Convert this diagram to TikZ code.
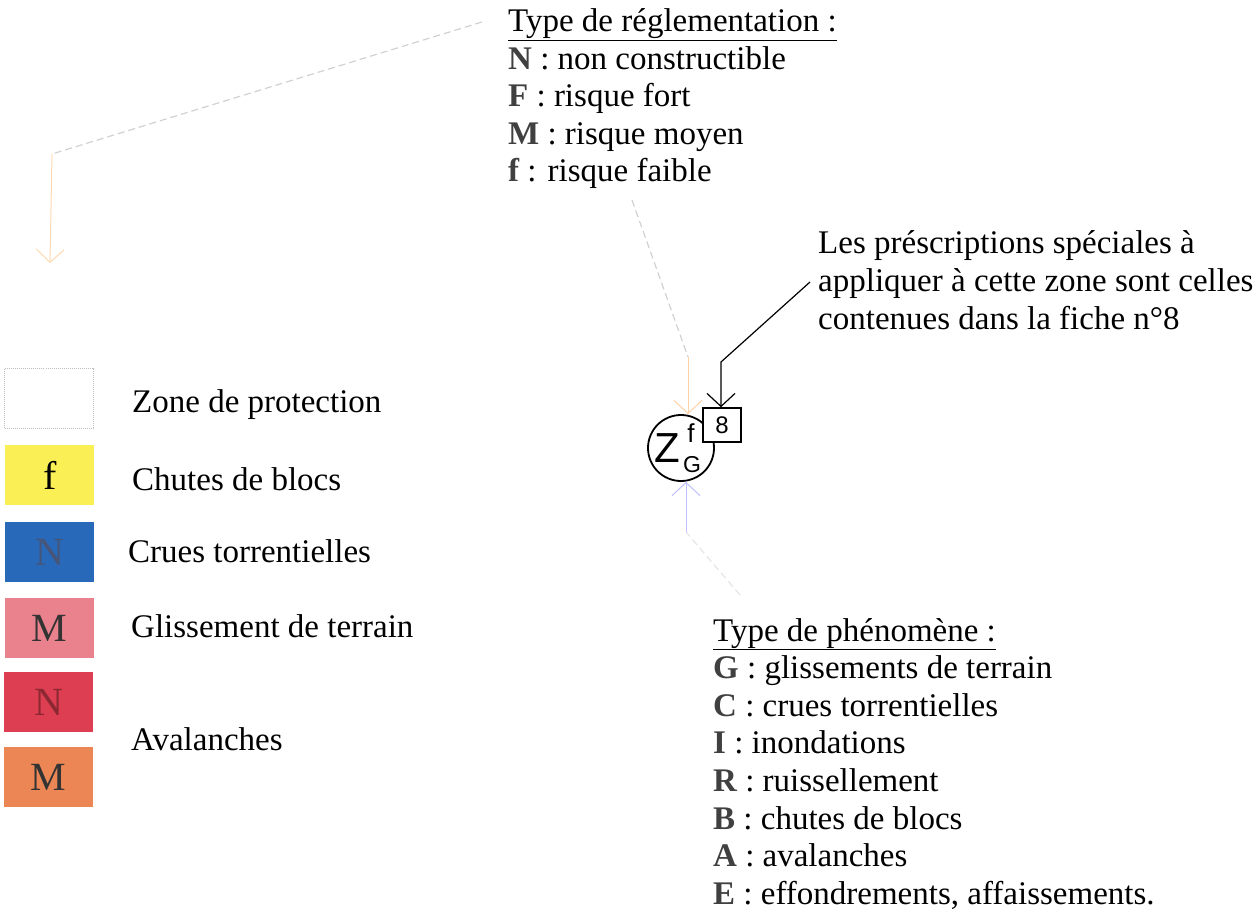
\documentclass[tikz,border=0pt]{standalone}
\usepackage{fontspec}
\setmainfont{Liberation Serif}
\setsansfont{Liberation Sans}
\usetikzlibrary{arrows.meta,positioning}

\definecolor{jaune}{RGB}{250,240,85}
\definecolor{bleu}{RGB}{40,105,185}
\definecolor{bleutxt}{RGB}{70,85,120}
\definecolor{rose}{RGB}{234,130,142}
\definecolor{rouge}{RGB}{222,62,82}
\definecolor{rougetxt}{RGB}{140,40,50}
\definecolor{orangeav}{RGB}{236,135,85}

\newcommand{\cle}[1]{\textbf{\color{black!75}#1}}

\begin{document}
\begin{tikzpicture}[x=1pt,y=-1pt,
	txt/.style={anchor=base west,inner sep=0pt,font=\fontsize{33}{38}\selectfont},
	legbox/.style={anchor=north west,minimum width=89pt,minimum height=60pt,inner sep=0pt,font=\fontsize{40}{40}\selectfont},
	pointer/.style={-{Straight Barb[length=13pt,width=28pt]},line width=1.2pt},
	faint/.style={line width=1.2pt,dash pattern=on 7pt off 4pt,black!18},
	symb/.style={inner sep=0pt},
]
	\useasboundingbox (0,0) rectangle (1255,920);

	% Legend (left)
	\node[legbox,draw=black!25,densely dotted,line width=1pt] (zone) at (4,368) {};
	\node[legbox,fill=jaune] (chutes) at (5,445) {f};
	\node[legbox,fill=bleu,text=bleutxt] (crues) at (5,522) {N};
	\node[legbox,fill=rose,text=black!80] (gliss) at (5,598) {M};
	\node[legbox,fill=rouge,text=rougetxt] (avalN) at (4,672) {N};
	\node[legbox,fill=orangeav,text=black!80] (avalM) at (4,747) {M};
	\node[txt] (lzone) at (132,412) {Zone de protection};
	\node[txt] (lchutes) at (132,490) {Chutes de blocs};
	\node[txt] (lcrues) at (128,562) {Crues torrentielles};
	\node[txt] (lgliss) at (131,637) {Glissement de terrain};
	\node[txt] (laval) at (131,750) {Avalanches};

	% Type de reglementation
	\node[txt] (reg0) at (508,32) {\underline{Type de réglementation :}};
	\foreach \k/\t [count=\i] in {N/non constructible,F/risque fort,M/risque moyen,f/risque faible}
		\node[txt] (reg\i) at (508,{32+37.5*\i}) {\cle{\k} : \t};

	% Prescriptions
	\node[txt] (presc1) at (818,253) {Les préscriptions spéciales à};
	\node[txt] (presc2) at (818,291) {appliquer à cette zone sont celles};
	\node[txt] (presc3) at (818,329) {contenues dans la fiche n°8};

	% Type de phenomene
	\node[txt] (phen0) at (713,641) {\underline{Type de phénomène :}};
	\foreach \k/\t [count=\i] in {G/glissements de terrain,C/crues torrentielles,I/inondations,R/ruissellement,B/chutes de blocs,A/avalanches,E/{effondrements, affaissements.}}
		\node[txt] (phen\i) at (713,{641+37.6*\i}) {\cle{\k} : \t};

	% Zone symbol
	\node[circle,draw,line width=1.8pt,minimum size=66pt,inner sep=0pt] (zonage) at (681,448) {};
	\node[symb,font=\sffamily\fontsize{42}{42}\selectfont] (lettreZ) at (667,448) {Z};
	\node[symb,font=\sffamily\fontsize{26}{26}\selectfont] (lettref) at (691,433) {f};
	\node[symb,font=\sffamily\fontsize{23}{23}\selectfont] (lettreG) at (692,465) {G};
	\node[draw,line width=1.5pt,fill=white,minimum width=38pt,minimum height=34pt,inner sep=0pt,font=\sffamily\fontsize{24}{24}\selectfont] (fiche) at (722,425) {8};

	% Connectors
	\coordinate (startA) at (810,282);
	\coordinate (bendA) at (721,362);
	\draw[pointer] (startA) -- (bendA) -- (fiche.north -| bendA);

	\coordinate (hautR) at (632,200);
	\coordinate (coudeR) at (688,357);
	\draw[faint] (hautR) -- (coudeR);
	\draw[pointer,orange!35,line width=1pt] (coudeR) -- (coudeR |- zonage.north);

	\coordinate (titreR) at (482,22);
	\coordinate (coinG) at (52,154);
	\coordinate (basG) at (50,263);
	\draw[faint] (titreR) -- (coinG);
	\draw[pointer,orange!30,line width=1pt] (coinG) -- (basG);

	\coordinate (basZ) at (686,532);
	\coordinate (phenH) at (740,595);
	\draw[faint,black!10] (phenH) -- (basZ);
	\draw[pointer,blue!25,line width=1pt] (basZ) -- (basZ |- zonage.south);
\end{tikzpicture}
\end{document}
